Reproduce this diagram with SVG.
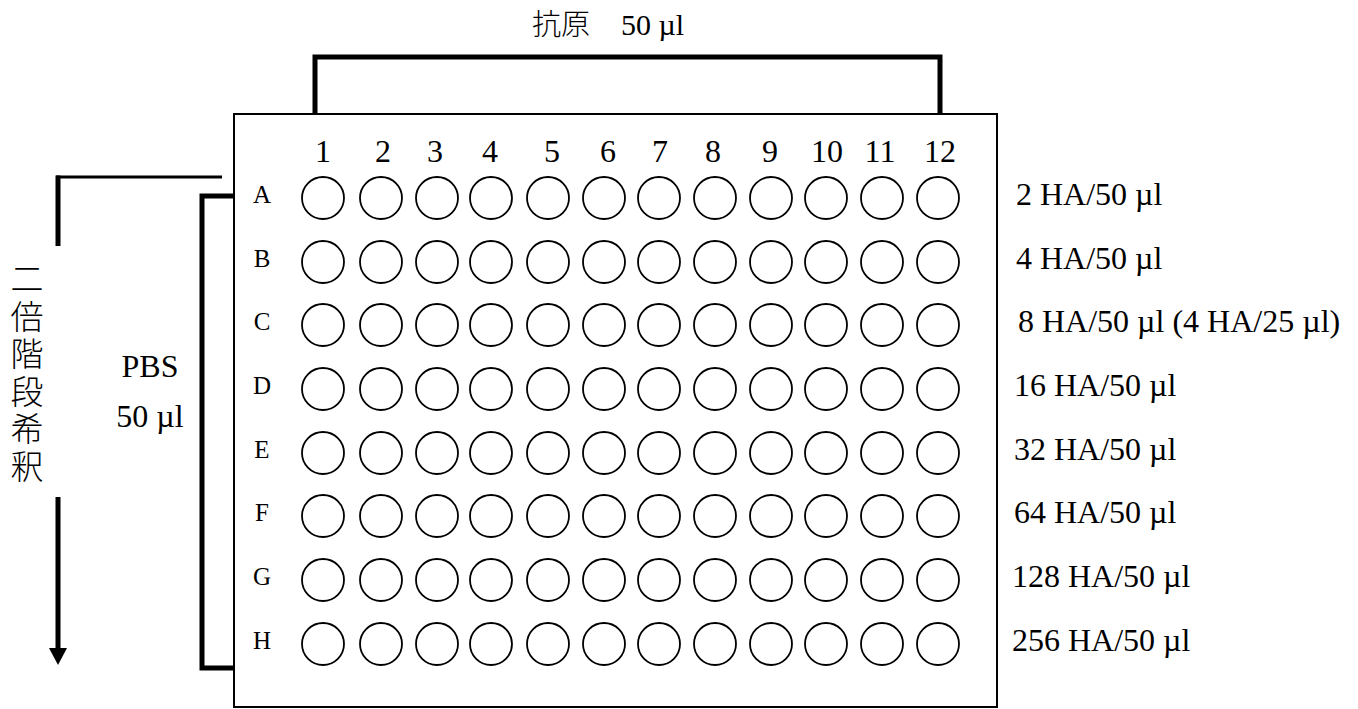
<svg xmlns="http://www.w3.org/2000/svg" width="1358" height="709" viewBox="0 0 1358 709">
  <style>
    .tr { font-family: "Liberation Serif", "Times New Roman", serif; fill: #000; }
    .jp { font-family: "Noto Sans CJK JP", "Noto Sans CJK SC", sans-serif; fill: #000; font-weight: 300; }
    .num { font-size: 32px; text-anchor: middle; }
    .row { font-size: 25px; text-anchor: middle; }
    .lbl { font-size: 32px; }
    .well { fill: #fff; stroke: #000; stroke-width: 1.8; }
    .thick { fill: none; stroke: #000; stroke-width: 5; }
    .thin { fill: none; stroke: #000; stroke-width: 3; }
  </style>
  <rect width="1358" height="709" fill="#fff"/>

  <g id="plate">
    <rect x="234" y="114" width="763" height="593" fill="#fff" stroke="#000" stroke-width="2"/>
  </g>

  <g id="column-numbers" class="tr num">
    <text x="323" y="162">1</text>
    <text x="383" y="162">2</text>
    <text x="435" y="162">3</text>
    <text x="490" y="162">4</text>
    <text x="552" y="162">5</text>
    <text x="608" y="162">6</text>
    <text x="660" y="162">7</text>
    <text x="713" y="162">8</text>
    <text x="770" y="162">9</text>
    <text x="827" y="162">10</text>
    <text x="880" y="162">11</text>
    <text x="940" y="162">12</text>
  </g>

  <defs>
    <g id="wellrow">
      <circle class="well" cx="323" cy="0" r="21"/>
      <circle class="well" cx="381" cy="0" r="21"/>
      <circle class="well" cx="437" cy="0" r="21"/>
      <circle class="well" cx="491" cy="0" r="21"/>
      <circle class="well" cx="548" cy="0" r="21"/>
      <circle class="well" cx="604" cy="0" r="21"/>
      <circle class="well" cx="659" cy="0" r="21"/>
      <circle class="well" cx="715" cy="0" r="21"/>
      <circle class="well" cx="771" cy="0" r="21"/>
      <circle class="well" cx="826" cy="0" r="21"/>
      <circle class="well" cx="882" cy="0" r="21"/>
      <circle class="well" cx="938" cy="0" r="21"/>
    </g>
  </defs>

  <g id="row-A"><text class="tr row" x="262" y="203">A</text><use href="#wellrow" y="198"/></g>
  <g id="row-B"><text class="tr row" x="262" y="267">B</text><use href="#wellrow" y="262"/></g>
  <g id="row-C"><text class="tr row" x="262" y="330">C</text><use href="#wellrow" y="325"/></g>
  <g id="row-D"><text class="tr row" x="262" y="394">D</text><use href="#wellrow" y="389"/></g>
  <g id="row-E"><text class="tr row" x="262" y="458">E</text><use href="#wellrow" y="453"/></g>
  <g id="row-F"><text class="tr row" x="262" y="521">F</text><use href="#wellrow" y="516"/></g>
  <g id="row-G"><text class="tr row" x="262" y="585">G</text><use href="#wellrow" y="580"/></g>
  <g id="row-H"><text class="tr row" x="262" y="649">H</text><use href="#wellrow" y="644"/></g>

  <g id="titre-labels" class="tr lbl">
    <text x="1016" y="205">2 HA/50 µl</text>
    <text x="1016" y="269">4 HA/50 µl</text>
    <text x="1018" y="332">8 HA/50 µl (4 HA/25 µl)</text>
    <text x="1014" y="396">16 HA/50 µl</text>
    <text x="1014" y="460">32 HA/50 µl</text>
    <text x="1014" y="523">64 HA/50 µl</text>
    <text x="1012" y="587">128 HA/50 µl</text>
    <text x="1012" y="651">256 HA/50 µl</text>
  </g>

  <g id="antigen-label">
    <text class="jp" x="532" y="35" font-size="29">抗原</text>
    <text class="tr" x="621" y="35" font-size="30">50 µl</text>
  </g>

  <g id="pbs-label" class="tr" font-size="32" text-anchor="middle">
    <text x="150" y="377">PBS</text>
    <text x="150" y="427">50 µl</text>
  </g>

  <g id="dilution-label">
    <text class="jp" x="27" y="262" font-size="33" letter-spacing="4.5" style="writing-mode: vertical-rl;">二倍階段希釈</text>
  </g>

  <g id="connectors">
    <path class="thick" d="M315,114 V57 H940 V114"/>
    <path class="thick" d="M234,196 H202 V668 H234"/>
    <path class="thin" d="M222,177 H56"/>
    <path class="thick" d="M58,175.5 V246"/>
    <path class="thick" d="M58,497 V650"/>
    <polygon points="49,648 67,648 58,665" fill="#000"/>
  </g>
</svg>
